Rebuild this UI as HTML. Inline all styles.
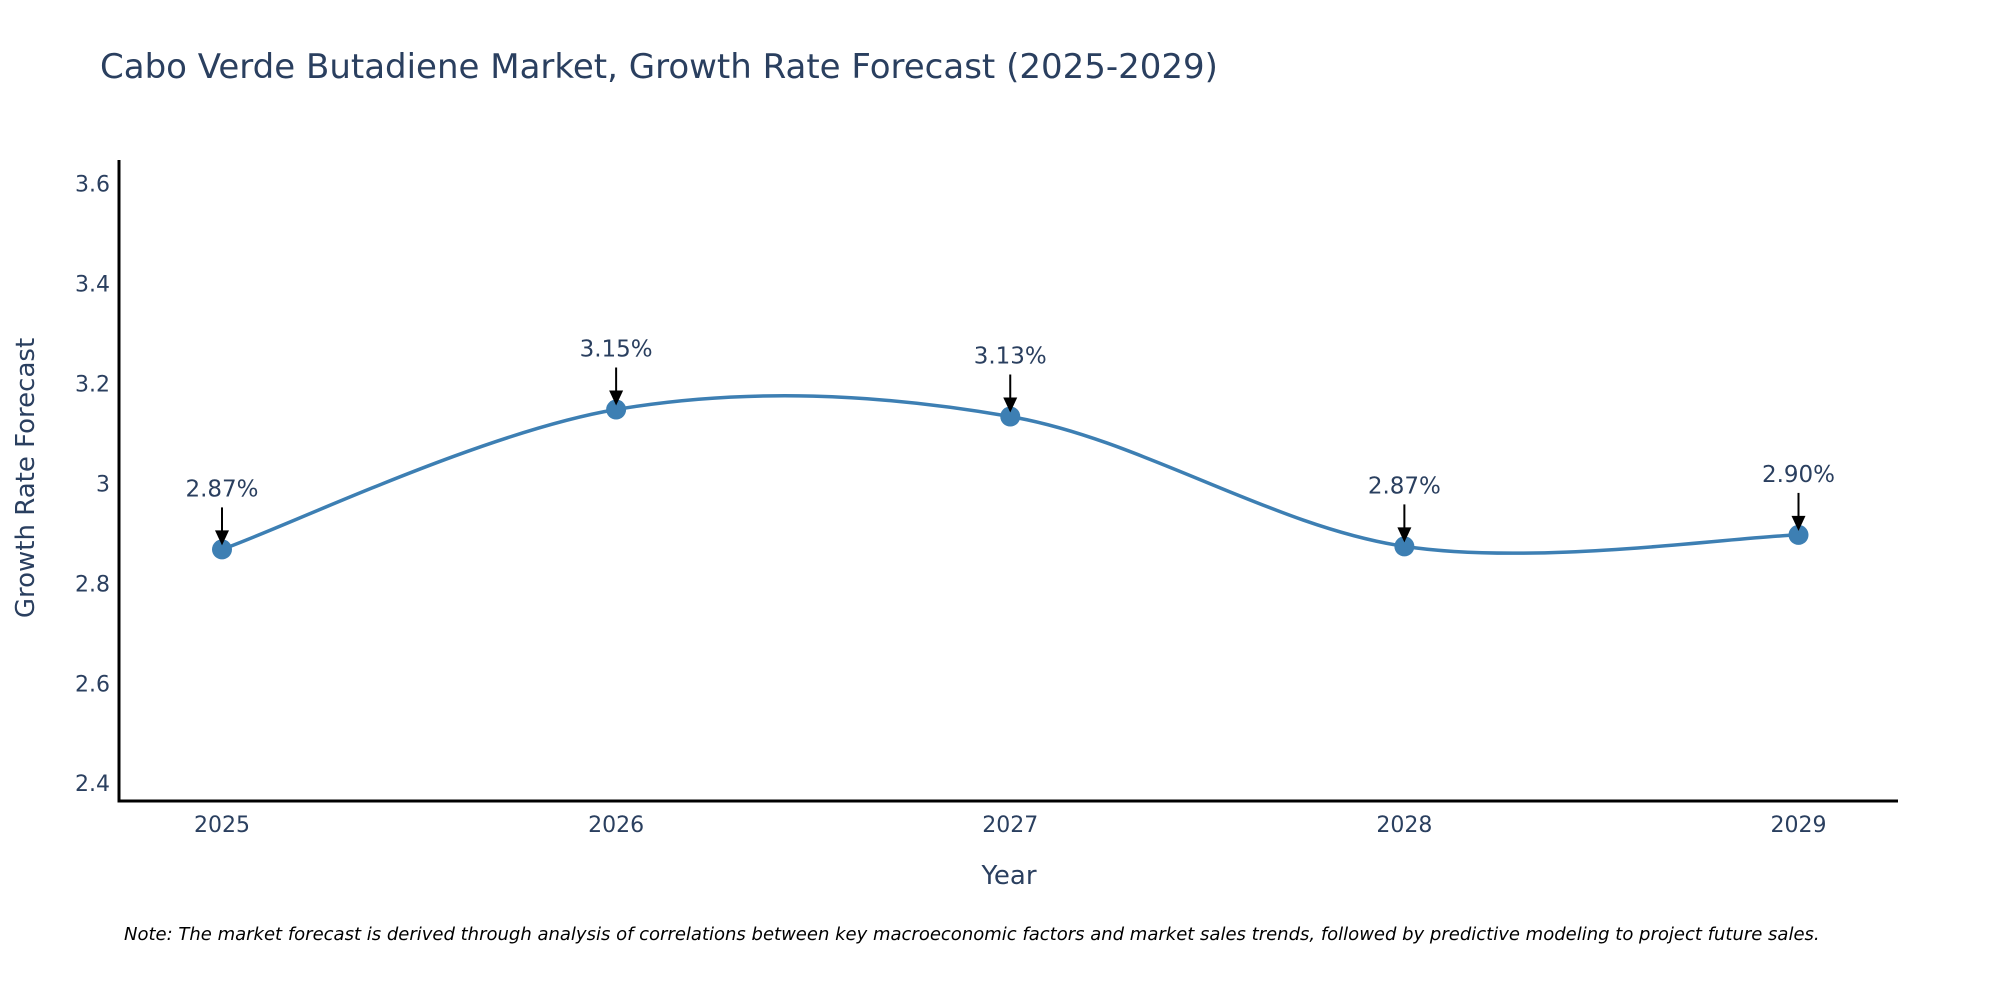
<!DOCTYPE html>
<html><head><meta charset="utf-8"><style>
body{margin:0;background:#fff;}
svg{display:block;font-family:"DejaVu Sans","Liberation Sans",sans-serif;}
</style></head><body>
<svg id="chart" width="2000" height="1000" viewBox="0 0 2000 1000">
<text x="100" y="78" font-size="34" fill="#2a3f5f">Cabo Verde Butadiene Market, Growth Rate Forecast (2025-2029)</text>
<g id="yticks"></g>
<g id="xticks"></g>
<line x1="119" y1="160" x2="119" y2="802" stroke="#000" stroke-width="3"/>
<line x1="117.5" y1="801" x2="1898" y2="801" stroke="#000" stroke-width="3"/>
<text x="1009" y="884" font-size="26" fill="#2a3f5f" text-anchor="middle">Year</text>
<text transform="translate(34,478) rotate(-90)" font-size="26" fill="#2a3f5f" text-anchor="middle">Growth Rate Forecast</text>
<g id="series"></g>
<g id="annots"></g>
<text x="124" y="940" font-size="18" font-style="italic" fill="#000">Note: The market forecast is derived through analysis of correlations between key macroeconomic factors and market sales trends, followed by predictive modeling to project future sales.</text>
</svg>
<script>
const years = [2025, 2026, 2027, 2028, 2029];
const values = [2.868, 3.148, 3.134, 2.874, 2.897];
const labels = ["2.87%", "3.15%", "3.13%", "2.87%", "2.90%"];
const yTicks = [2.4, 2.6, 2.8, 3, 3.2, 3.4, 3.6];
const yTickLabels = ["2.4", "2.6", "2.8", "3", "3.2", "3.4", "3.6"];

const NS = "http://www.w3.org/2000/svg";
const xs = y => 222 + (y - 2025) * (1798.5 - 222) / 4;
const ys = v => 783.2 - (v - 2.4) * (783.2 - 183.7) / 1.2;
function mk(tag, attrs, parent){const e=document.createElementNS(NS,tag);for(const k in attrs)e.setAttribute(k,attrs[k]);parent.appendChild(e);return e;}

const yg=document.getElementById('yticks');
yTicks.forEach((t,i)=>{
  const e=mk('text',{x:110,y:ys(t)+8,'font-size':22,fill:'#2a3f5f','text-anchor':'end'},yg);
  
  
  e.textContent=yTickLabels[i];
});
const xg=document.getElementById('xticks');
years.forEach(y=>{
  const e=mk('text',{x:xs(y),y:832,'font-size':22,fill:'#2a3f5f','text-anchor':'middle'},xg);
  
  
  e.textContent=y;
});

const pts=years.map((y,i)=>[xs(y),ys(values[i])]);
let d=`M${pts[0][0]},${pts[0][1]}`;
for(let i=0;i<pts.length-1;i++){
  const p0=pts[Math.max(0,i-1)],p1=pts[i],p2=pts[i+1],p3=pts[Math.min(pts.length-1,i+2)];
  const c1=[p1[0]+(p2[0]-p0[0])/6,p1[1]+(p2[1]-p0[1])/6];
  const c2=[p2[0]-(p3[0]-p1[0])/6,p2[1]-(p3[1]-p1[1])/6];
  d+=` C${c1[0]},${c1[1]} ${c2[0]},${c2[1]} ${p2[0]},${p2[1]}`;
}
const sg=document.getElementById('series');
const line=mk('path',{d:d,fill:'none',stroke:'#3d7fb3','stroke-width':3.5},sg);


pts.forEach(p=>{
  const c=mk('circle',{cx:p[0],cy:p[1],r:10,fill:'#3d7fb3'},sg);
  
  
});
const ag=document.getElementById('annots');
pts.forEach((p,i)=>{
  const t=mk('text',{x:p[0],y:p[1]-53,'font-size':23,fill:'#2a3f5f','text-anchor':'middle'},ag);
  
  
  t.textContent=labels[i];
  const l=mk('line',{x1:p[0],y1:p[1]-42,x2:p[0],y2:p[1]-16,stroke:'#000','stroke-width':2},ag);
  
  
  const h=mk('polygon',{points:`${p[0]-7},${p[1]-19} ${p[0]+7},${p[1]-19} ${p[0]},${p[1]-4}`,fill:'#000'},ag);
  
  
});
</script>
</body></html>
